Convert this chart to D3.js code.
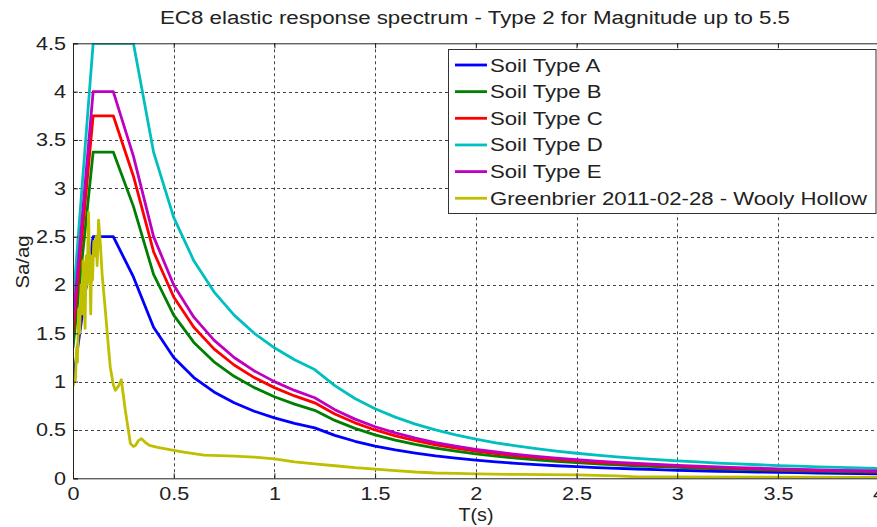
<!DOCTYPE html>
<html><head><meta charset="utf-8">
<script src="https://cdn.jsdelivr.net/npm/d3@7"></script>
<style>
body{margin:0;background:#fff;}
svg{display:block;}
text{font-family:Arial,"Liberation Sans",sans-serif;fill:#222;}
</style>
</head><body>
<svg id="chart" width="877" height="527"></svg>
<script>
const titleText = "EC8 elastic response spectrum - Type 2 for Magnitude up to 5.5";
const xLabel = "T(s)";
const yLabel = "Sa/ag";
const xTicks = [0, 0.5, 1, 1.5, 2, 2.5, 3, 3.5, 4];
const yTicks = [0, 0.5, 1, 1.5, 2, 2.5, 3, 3.5, 4, 4.5];
const seriesNames = ["Soil Type A", "Soil Type B", "Soil Type C", "Soil Type D", "Soil Type E", "Greenbrier 2011-02-28 - Wooly Hollow"];
const seriesColors = ["#0000ff", "#007f00", "#ff0000", "#00bfbf", "#bf00bf", "#bfbf00"];

const periods = [0,0.1,0.2,0.3,0.4,0.5,0.6,0.7,0.8,0.9,1.0,1.1,1.2,1.3,1.4,1.5,1.6,1.7,1.8,1.9,2.0,2.1,2.2,2.3,2.4,2.5,2.6,2.7,2.8,2.9,3.0,3.1,3.2,3.3,3.4,3.5,3.6,3.7,3.8,3.9,4.0];
const soilA = [1.0,2.5,2.5,2.083,1.563,1.25,1.042,0.893,0.781,0.694,0.625,0.568,0.521,0.444,0.383,0.333,0.293,0.260,0.231,0.208,0.188,0.170,0.155,0.142,0.130,0.120,0.111,0.103,0.096,0.089,0.083,0.078,0.073,0.069,0.065,0.061,0.058,0.055,0.052,0.049,0.047];
const soilB = [1.35,3.375,3.375,2.813,2.109,1.688,1.406,1.205,1.055,0.938,0.844,0.767,0.703,0.599,0.517,0.45,0.396,0.350,0.313,0.280,0.253,0.230,0.209,0.191,0.176,0.162,0.150,0.139,0.129,0.120,0.113,0.105,0.099,0.093,0.088,0.083,0.078,0.074,0.070,0.067,0.063];
const soilC = [1.5,3.75,3.75,3.125,2.344,1.875,1.563,1.339,1.172,1.042,0.938,0.852,0.781,0.666,0.574,0.5,0.439,0.389,0.347,0.312,0.281,0.255,0.232,0.213,0.195,0.18,0.166,0.154,0.144,0.134,0.125,0.117,0.110,0.103,0.097,0.092,0.087,0.082,0.078,0.074,0.070];
const soilD = [1.8,4.5,4.5,4.5,3.375,2.7,2.25,1.929,1.688,1.5,1.35,1.227,1.125,0.959,0.826,0.72,0.633,0.561,0.5,0.449,0.405,0.367,0.335,0.306,0.281,0.259,0.240,0.222,0.207,0.193,0.18,0.169,0.158,0.149,0.140,0.132,0.125,0.118,0.112,0.107,0.101];
const soilE = [1.6,4.0,4.0,3.333,2.5,2.0,1.667,1.429,1.25,1.111,1.0,0.909,0.833,0.710,0.612,0.533,0.469,0.415,0.370,0.332,0.3,0.272,0.248,0.227,0.208,0.192,0.178,0.165,0.153,0.143,0.133,0.125,0.117,0.110,0.104,0.098,0.093,0.088,0.083,0.079,0.075];

const recordT = [0,0.005,0.012,0.018,0.022,0.028,0.033,0.04,0.045,0.05,0.055,0.06,0.065,0.07,0.077,0.083,0.088,0.093,0.097,0.103,0.108,0.115,0.12,0.127,0.135,0.145,0.16,0.175,0.185,0.2,0.21,0.225,0.24,0.26,0.285,0.3,0.31,0.325,0.34,0.36,0.38,0.42,0.5,0.55,0.65,0.8,0.9,1.0,1.1,1.2,1.3,1.4,1.5,1.6,1.7,1.8,1.9,2.0,2.2,2.5,2.7,2.8,3.0,3.5,4.0];
const recordSa = [0.95,1.0,1.02,1.35,1.2,1.75,1.5,2.0,1.7,2.25,1.85,1.55,2.3,2.0,2.75,2.2,1.7,2.3,2.05,2.45,2.3,2.5,2.2,2.67,2.45,2.1,1.75,1.38,1.15,0.97,0.91,0.95,1.02,0.7,0.36,0.33,0.34,0.39,0.41,0.37,0.34,0.32,0.29,0.27,0.24,0.23,0.22,0.2,0.17,0.15,0.13,0.11,0.095,0.08,0.065,0.055,0.05,0.045,0.04,0.035,0.025,0.015,0.015,0.012,0.01];

const pair = (xs, ys) => d3.range(Math.min(xs.length, ys.length)).map(i => [xs[i], ys[i]]);
const seriesData = [
  pair(periods, soilA), pair(periods, soilB), pair(periods, soilC),
  pair(periods, soilD), pair(periods, soilE), pair(recordT, recordSa)
];

const W = 877, H = 527;
const m = {left: 73, top: 43.3, right: 878.6, bottom: 478.3};
const svg = d3.select("#chart");
const x = d3.scaleLinear().domain([0, 4]).range([m.left, m.right]);
const y = d3.scaleLinear().domain([0, 4.5]).range([m.bottom, m.top]);

function stretch(sel, sx) {
  sel.each(function() {
    const w = this.getComputedTextLength();
    d3.select(this).attr("textLength", w * sx).attr("lengthAdjust", "spacingAndGlyphs");
  });
}
function fitTo(sel, len) {
  sel.attr("textLength", len).attr("lengthAdjust", "spacingAndGlyphs");
}

svg.append("rect").attr("width", W).attr("height", H).attr("fill", "#fff");

// grid
const grid = svg.append("g").attr("stroke", "#444").attr("stroke-width", 1).attr("stroke-dasharray", "3,3");
grid.selectAll("line.v").data(xTicks.filter(t => t > 0 && t < 4)).join("line")
  .attr("x1", d => Math.round(x(d)) + 0.5).attr("x2", d => Math.round(x(d)) + 0.5)
  .attr("y1", m.top).attr("y2", m.bottom);
grid.selectAll("line.h").data(yTicks.filter(t => t > 0 && t < 4.5)).join("line")
  .attr("y1", d => Math.round(y(d)) + 0.5).attr("y2", d => Math.round(y(d)) + 0.5)
  .attr("x1", m.left).attr("x2", m.right);

// clip
svg.append("clipPath").attr("id", "plotclip").append("rect")
  .attr("x", m.left).attr("y", m.top).attr("width", m.right - m.left).attr("height", m.bottom - m.top);

const line = d3.line().x(d => x(d[0])).y(d => y(d[1]));
svg.append("g").attr("clip-path", "url(#plotclip)")
  .selectAll("path").data(seriesData).join("path")
  .attr("d", line).attr("fill", "none")
  .attr("stroke", (d, i) => seriesColors[i]).attr("stroke-width", 2.8)
  .attr("stroke-linejoin", "round");

// axes box
const bottomAxis = d3.axisBottom(x).tickValues(xTicks).tickSize(-5).tickPadding(9).tickFormat(d3.format("~g"));
const leftAxis = d3.axisLeft(y).tickValues(yTicks).tickSize(-5).tickPadding(7).tickFormat(d3.format("~g"));
const topAxis = d3.axisTop(x).tickValues(xTicks).tickSize(-5).tickFormat("");
const gx = svg.append("g").attr("transform", `translate(0,${m.bottom})`).call(bottomAxis);
const gy = svg.append("g").attr("transform", `translate(${m.left},0)`).call(leftAxis);
const gt = svg.append("g").attr("transform", `translate(0,${m.top})`).call(topAxis);
[gx, gy, gt].forEach(g => {
  g.select(".domain").attr("stroke", "#222");
  g.selectAll(".tick line").attr("stroke", "#222");
  g.selectAll(".tick text").attr("font-size", 18).attr("fill", "#222")
    .attr("font-family", 'Arial,"Liberation Sans",sans-serif');
});
gx.selectAll(".tick text").attr("dy", "0.71em");
stretch(gx.selectAll(".tick text"), 1.2);
stretch(gy.selectAll(".tick text"), 1.2);

// legend
const lg = svg.append("g");
lg.append("rect").attr("x", 448.5).attr("y", 49.5).attr("width", 427.5).attr("height", 164)
  .attr("fill", "#fff").attr("stroke", "#333").attr("stroke-width", 1);
const rows = lg.selectAll("g.row").data(seriesNames).join("g")
  .attr("transform", (d, i) => `translate(0,${65 + i * 26.65})`);
rows.append("line").attr("x1", 455).attr("x2", 487).attr("y1", 0).attr("y2", 0)
  .attr("stroke", (d, i) => seriesColors[i]).attr("stroke-width", 2.8);
const lt = rows.append("text").attr("x", 490).attr("y", 6.5).attr("font-size", 18).text(d => d);
stretch(lt, 1.23);

// title and labels
const tt = svg.append("text").attr("x", 475).attr("y", 24).attr("text-anchor", "middle")
  .attr("font-size", 18).text(titleText);
fitTo(tt, 630);
const xl = svg.append("text").attr("x", 476).attr("y", 521).attr("text-anchor", "middle")
  .attr("font-size", 18).text(xLabel);
fitTo(xl, 35);
const yl = svg.append("text").attr("transform", "translate(29,262) rotate(-90)")
  .attr("text-anchor", "middle").attr("font-size", 19).text(yLabel);
fitTo(yl, 53);
</script>
</body></html>
